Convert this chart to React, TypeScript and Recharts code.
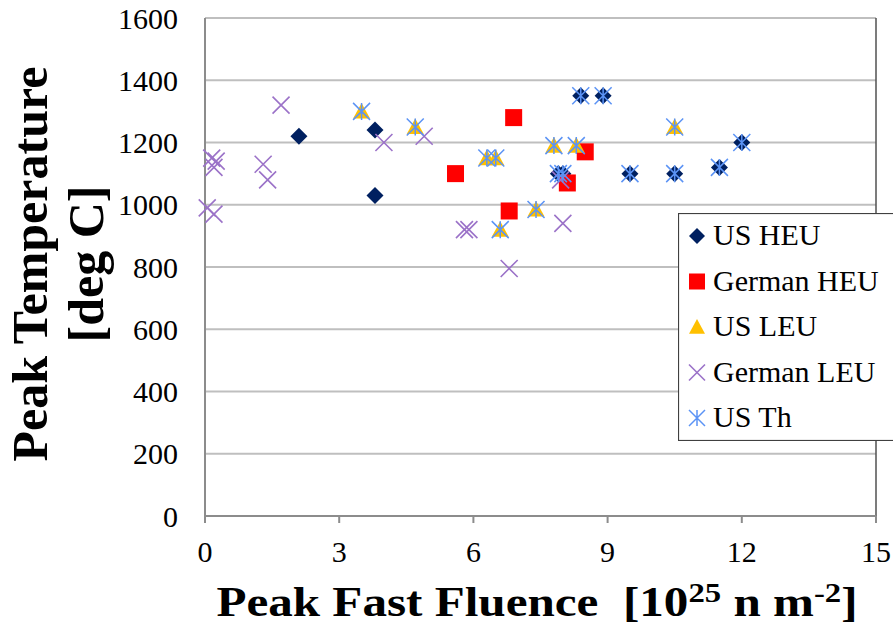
import React from 'react';
import { ScatterChart, Scatter, XAxis, YAxis, CartesianGrid, Legend, Label, ReferenceLine } from 'recharts';

const xTicks = [0, 3, 6, 9, 12, 15];
const yTicks = [0, 200, 400, 600, 800, 1000, 1200, 1400, 1600];

const usHEU = [
  { x: 2.1, y: 1220 }, { x: 3.8, y: 1240 }, { x: 3.8, y: 1030 },
  { x: 7.9, y: 1100 }, { x: 8.0, y: 1100 }, { x: 8.4, y: 1350 }, { x: 8.9, y: 1350 },
  { x: 9.5, y: 1100 }, { x: 10.5, y: 1100 }, { x: 11.5, y: 1120 }, { x: 12.0, y: 1200 },
];
const germanHEU = [
  { x: 5.6, y: 1100 }, { x: 6.9, y: 1280 }, { x: 8.5, y: 1170 }, { x: 8.1, y: 1070 }, { x: 6.8, y: 980 },
];
const usLEU = [
  { x: 3.5, y: 1300 }, { x: 4.7, y: 1250 }, { x: 6.3, y: 1150 }, { x: 6.5, y: 1150 },
  { x: 7.8, y: 1190 }, { x: 8.3, y: 1190 }, { x: 10.5, y: 1250 }, { x: 6.6, y: 920 }, { x: 7.4, y: 985 },
];
const germanLEU = [
  { x: 1.7, y: 1320 }, { x: 0.15, y: 1150 }, { x: 0.25, y: 1140 }, { x: 0.2, y: 1120 },
  { x: 0.05, y: 990 }, { x: 0.2, y: 970 }, { x: 1.3, y: 1130 }, { x: 1.4, y: 1080 },
  { x: 4.0, y: 1200 }, { x: 4.9, y: 1220 }, { x: 5.8, y: 920 }, { x: 5.9, y: 920 },
  { x: 6.8, y: 795 }, { x: 8.0, y: 940 }, { x: 7.95, y: 1080 },
];
const usTh = [
  { x: 3.5, y: 1300 }, { x: 4.7, y: 1250 }, { x: 6.3, y: 1150 }, { x: 6.5, y: 1150 },
  { x: 7.8, y: 1190 }, { x: 8.3, y: 1190 }, { x: 10.5, y: 1250 }, { x: 6.6, y: 920 }, { x: 7.4, y: 985 },
  { x: 7.9, y: 1100 }, { x: 8.0, y: 1100 }, { x: 8.4, y: 1350 }, { x: 8.9, y: 1350 },
  { x: 9.5, y: 1100 }, { x: 10.5, y: 1100 }, { x: 11.5, y: 1120 }, { x: 12.0, y: 1200 },
];

const C_HEU = '#002060';
const C_GHEU = '#FF0000';
const C_LEU = '#FFC000';
const C_GLEU = '#9B72C8';
const C_TH = '#5B93F5';
const FONT = "'Liberation Serif', serif";

const diamond = (cx: number, cy: number, r = 8.5) => (
  <path d={`M${cx},${cy - r}L${cx + r},${cy}L${cx},${cy + r}L${cx - r},${cy}Z`} fill={C_HEU} />
);
const square = (cx: number, cy: number, s = 17) => (
  <rect x={cx - s / 2} y={cy - s / 2} width={s} height={s} fill={C_GHEU} />
);
const triangle = (cx: number, cy: number, w = 17) => (
  <path d={`M${cx},${cy - w * 0.5}L${cx + w / 2},${cy + w * 0.42}L${cx - w / 2},${cy + w * 0.42}Z`} fill={C_LEU} />
);
const cross = (cx: number, cy: number, r = 8.5) => (
  <path d={`M${cx - r},${cy - r}L${cx + r},${cy + r}M${cx - r},${cy + r}L${cx + r},${cy - r}`} stroke={C_GLEU} strokeWidth={1.6} fill="none" />
);
const asterisk = (cx: number, cy: number, r = 8.5) => (
  <path d={`M${cx - r},${cy - r}L${cx + r},${cy + r}M${cx - r},${cy + r}L${cx + r},${cy - r}M${cx},${cy - r}L${cx},${cy + r}`} stroke={C_TH} strokeWidth={1.5} fill="none" />
);

const markerFor: Record<string, (cx: number, cy: number) => React.ReactElement> = {
  'US HEU': (cx, cy) => diamond(cx, cy, 8),
  'German HEU': (cx, cy) => square(cx, cy, 16),
  'US LEU': (cx, cy) => triangle(cx, cy, 16),
  'German LEU': (cx, cy) => cross(cx, cy, 8),
  'US Th': (cx, cy) => asterisk(cx, cy, 8),
};

const legendOrder = ['US HEU', 'German HEU', 'US LEU', 'German LEU', 'US Th'];

const LegendBox = () => (
  <svg width={220} height={228} style={{ display: 'block' }}>
    <rect x={0.5} y={0.5} width={230} height={227} fill="#fff" stroke="#404040" strokeWidth={1.2} />
    {legendOrder.map((name, i) => {
      const base = 32 + i * 45.5;
      return (
        <g key={name}>
          {markerFor[name](19, base - 9)}
          <text x={35} y={base} fontSize={30} fill="#000" style={{ fontFamily: FONT }}>{name}</text>
        </g>
      );
    })}
  </svg>
);

const XTitle = () => (
  <g transform="translate(537,616) scale(1.17,1)">
    <text x={0} y={0} textAnchor="middle" fontWeight="bold" fontSize={42} fill="#000" style={{ whiteSpace: 'pre', fontFamily: FONT }}>
      <tspan>{'Peak Fast Fluence  [10'}</tspan>
      <tspan fontSize={28} dy={-14}>25</tspan>
      <tspan dy={14}>{' n m'}</tspan>
      <tspan fontSize={28} dy={-14}>-2</tspan>
      <tspan dy={14}>]</tspan>
    </text>
  </g>
);

const YTitle = () => (
  <g style={{ fontFamily: FONT }}>
    <text x={47} y={264} transform="rotate(-90,47,264)" textAnchor="middle" fontWeight="bold" fontSize={50} fill="#000">Peak Temperature</text>
    <text x={103} y={264} transform="rotate(-90,103,264)" textAnchor="middle" fontWeight="bold" fontSize={50} fill="#000">[deg C]</text>
  </g>
);

export default function App() {
  return (
    <div style={{ position: 'absolute', left: 0, top: 0, width: 893, height: 632, background: '#fff' }}>
      <ScatterChart width={893} height={632} margin={{ top: 18, right: 17, left: 0, bottom: 0 }}>
        <CartesianGrid horizontal vertical={false} stroke="#BFBFBF" strokeWidth={2} />
        <XAxis
          type="number"
          dataKey="x"
          domain={[0, 15]}
          ticks={xTicks}
          height={116}
          stroke="#8C8C8C"
          strokeWidth={2}
          tickSize={7}
          tickMargin={18}
          tick={{ fontSize: 30, fill: '#000', style: { fontFamily: FONT } }}
        >
          <Label content={() => <XTitle />} />
        </XAxis>
        <YAxis
          type="number"
          dataKey="y"
          domain={[0, 1600]}
          ticks={yTicks}
          width={205}
          stroke="#8C8C8C"
          strokeWidth={2}
          tickSize={0}
          tickMargin={27}
          tick={{ fontSize: 30, fill: '#000', style: { fontFamily: FONT } }}
        >
          <Label content={() => <YTitle />} />
        </YAxis>
        <ReferenceLine x={15} stroke="#505050" strokeWidth={1.5} />
        <Scatter name="US HEU" data={usHEU} fill={C_HEU} isAnimationActive={false}
          shape={(p: any) => diamond(p.cx, p.cy)} />
        <Scatter name="German HEU" data={germanHEU} fill={C_GHEU} isAnimationActive={false}
          shape={(p: any) => square(p.cx, p.cy)} />
        <Scatter name="US LEU" data={usLEU} fill={C_LEU} isAnimationActive={false}
          shape={(p: any) => triangle(p.cx, p.cy)} />
        <Scatter name="German LEU" data={germanLEU} fill={C_GLEU} isAnimationActive={false}
          shape={(p: any) => cross(p.cx, p.cy)} />
        <Scatter name="US Th" data={usTh} fill={C_TH} isAnimationActive={false}
          shape={(p: any) => asterisk(p.cx, p.cy)} />
        <Legend
          layout="vertical"
          align="center"
          verticalAlign="middle"
          content={() => <LegendBox />}
          wrapperStyle={{ position: 'absolute', left: 678, top: 213, width: 220, height: 228 }}
        />
      </ScatterChart>
    </div>
  );
}
